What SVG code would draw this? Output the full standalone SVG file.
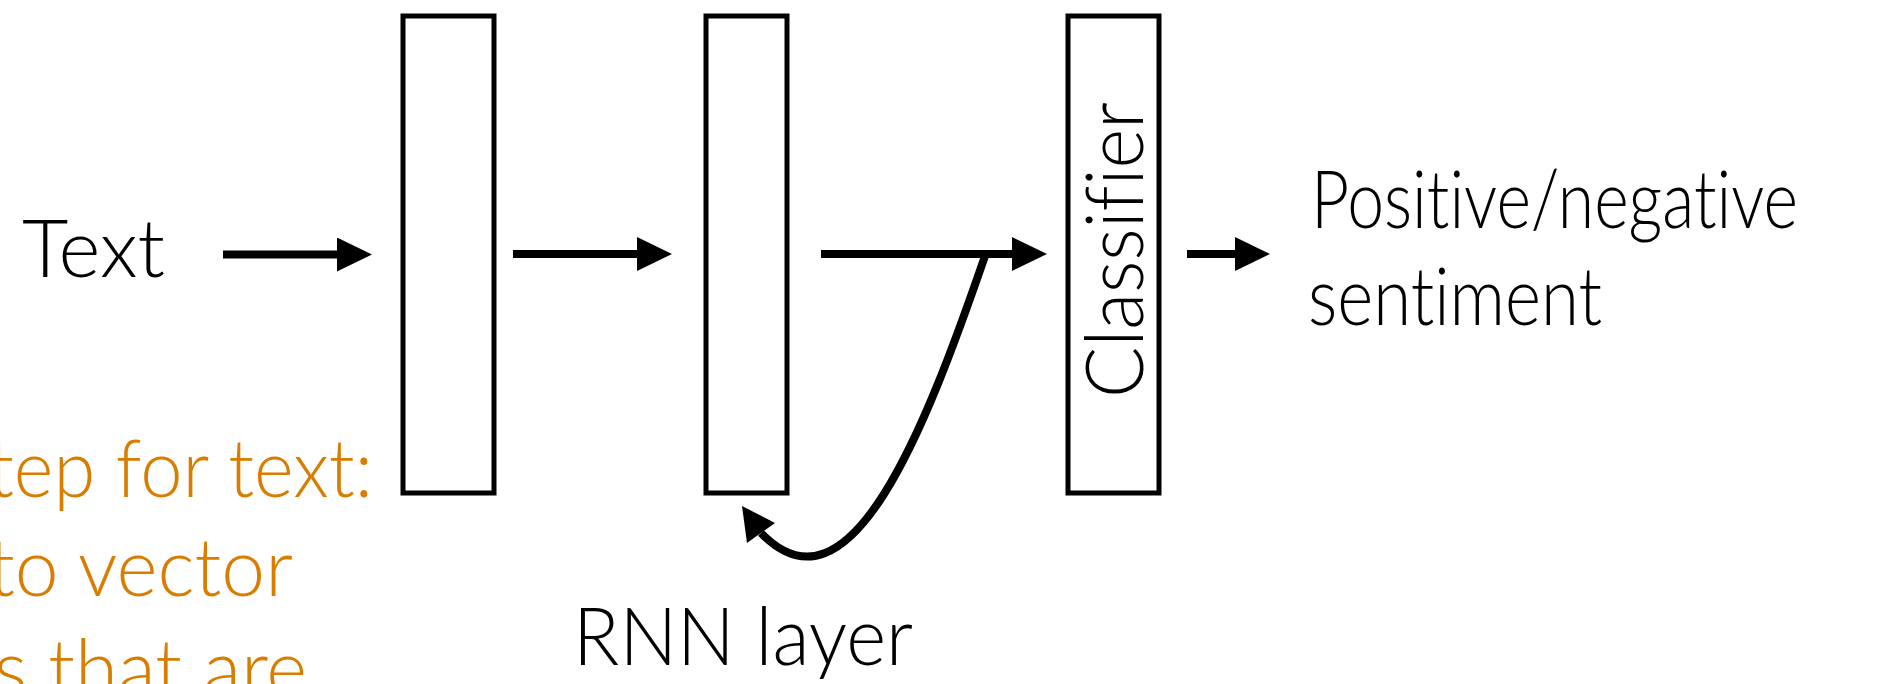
<svg xmlns="http://www.w3.org/2000/svg" width="1878" height="684" viewBox="0 0 1878 684">
  <defs>
    <style>
      .lbl { font-family: "Lato", "Open Sans", "Liberation Sans", sans-serif; font-weight: 300; font-size: 81px; font-variant-ligatures: none; fill: #000; }
      .note { font-family: "Lato", "Open Sans", "Liberation Sans", sans-serif; font-weight: 300; font-size: 81px; font-variant-ligatures: none; fill: #D97D00; }
      .box { fill: #fff; stroke: #000; stroke-width: 5; }
      .edge { fill: none; stroke: #000; stroke-width: 8; }
    </style>
    <marker id="head" markerUnits="userSpaceOnUse" markerWidth="35" markerHeight="34" viewBox="0 0 35 34" refX="0" refY="17" orient="auto">
      <path d="M0,0 L35,17 L0,34 z" fill="#000"/>
    </marker>
  </defs>
  <rect width="1878" height="684" fill="#fff"/>

  <!-- input label -->
  <g id="input">
    <text class="lbl" x="22" y="277" textLength="143" lengthAdjust="spacingAndGlyphs">Text</text>
  </g>

  <!-- embedding layer -->
  <g id="embedding">
    <rect class="box" x="403" y="16" width="91" height="477"/>
  </g>

  <!-- recurrent layer -->
  <g id="rnn">
    <rect class="box" x="706" y="16" width="81" height="477"/>
    <text class="lbl" x="573" y="665" textLength="340" lengthAdjust="spacingAndGlyphs">RNN layer</text>
  </g>

  <!-- classifier -->
  <g id="classifier">
    <rect class="box" x="1068" y="16" width="91" height="477"/>
    <text class="lbl" transform="translate(1143 398) rotate(-90)" textLength="296" lengthAdjust="spacingAndGlyphs">Classifier</text>
  </g>

  <!-- output label -->
  <g id="output">
    <text class="lbl" x="1311" y="228" textLength="487" lengthAdjust="spacingAndGlyphs">Positive/negative</text>
    <text class="lbl" x="1308" y="325" textLength="294" lengthAdjust="spacingAndGlyphs">sentiment</text>
  </g>

  <!-- preprocessing note -->
  <g id="note">
    <text class="note" x="-12" y="497" textLength="385" lengthAdjust="spacingAndGlyphs">tep for text:</text>
    <text class="note" x="-12" y="596" textLength="305" lengthAdjust="spacingAndGlyphs">to vector</text>
    <text class="note" x="-6" y="697" textLength="313" lengthAdjust="spacingAndGlyphs">s that are</text>
  </g>

  <!-- connectors -->
  <g id="connectors">
    <line class="edge" x1="223" y1="254.5" x2="337" y2="254.5" marker-end="url(#head)"/>
    <line class="edge" x1="513" y1="254" x2="637" y2="254" marker-end="url(#head)"/>
    <line class="edge" x1="821" y1="254" x2="1012" y2="254" marker-end="url(#head)"/>
    <line class="edge" x1="1187" y1="254" x2="1235" y2="254" marker-end="url(#head)"/>
    <path class="edge" stroke-width="7" d="M985,256 C925,430 850,625 761,533"/>
    <polygon points="742,506 747,543 775,523" fill="#000"/>
  </g>
</svg>
